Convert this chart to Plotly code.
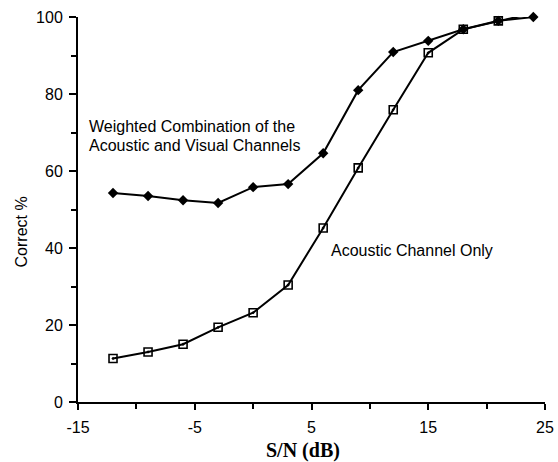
import plotly.graph_objects as go

snr_db = [-12, -9, -6, -3, 0, 3, 6, 9, 12, 15, 18, 21, 24]
weighted_av = [54.3, 53.5, 52.4, 51.7, 55.8, 56.6, 64.6, 81.0, 90.9, 93.8, 96.8, 99.0, 100.0]
acoustic_only = [11.3, 13.0, 15.0, 19.4, 23.2, 30.4, 45.2, 60.8, 75.9, 90.7, 96.8, 99.0, 101.0]

x_ticks = [-15, -5, 5, 15, 25]
y_ticks = [0, 20, 40, 60, 80, 100]

SANS = "Liberation Sans, Arial, sans-serif"
SERIF = "Liberation Serif, Times New Roman, serif"

fig = go.Figure()
fig.add_trace(go.Scatter(
    x=snr_db, y=acoustic_only, mode="lines+markers", cliponaxis=False,
    line=dict(color="black", width=2),
    marker=dict(symbol="square-open-dot", size=8, color="black", line=dict(width=1.6, color="black")),
    showlegend=False,
))
fig.add_trace(go.Scatter(
    x=snr_db, y=weighted_av, mode="lines+markers", cliponaxis=False,
    line=dict(color="black", width=2),
    marker=dict(symbol="diamond", size=8, color="black"),
    showlegend=False,
))

fig.add_annotation(
    x=-14.23, y=71.5, xref="x", yref="y", xanchor="left", yanchor="middle",
    text="Weighted Combination of the", showarrow=False,
    font=dict(family=SANS, size=16, color="black"),
)
fig.add_annotation(
    x=-14.23, y=66.6, xref="x", yref="y", xanchor="left", yanchor="middle",
    text="Acoustic and Visual Channels", showarrow=False,
    font=dict(family=SANS, size=16, color="black"),
)
fig.add_annotation(
    x=6.47, y=39.4, xref="x", yref="y", xanchor="left", yanchor="middle",
    text="Acoustic Channel Only", showarrow=False,
    font=dict(family=SANS, size=16, color="black"),
)
# axis titles
fig.add_annotation(
    x=0.4818, y=-0.1247, xref="paper", yref="paper", text="<b>S/N (dB)</b>", showarrow=False,
    xanchor="center", yanchor="middle",
    font=dict(family=SERIF, size=20, color="black"),
)
fig.add_annotation(
    x=-0.121, y=0.4416, xref="paper", yref="paper", text="Correct %", showarrow=False,
    xanchor="center", yanchor="middle",
    textangle=-90, font=dict(family=SANS, size=16, color="black"),
)

fig.update_xaxes(
    range=[-15, 25], tickvals=x_ticks, ticktext=[str(v) for v in x_ticks],
    showgrid=False, zeroline=False, showline=True, linecolor="black", linewidth=2,
    ticks="outside", ticklen=6, tickwidth=1.5, tickcolor="black", automargin=False,
    ticklabeloverflow="allow", ticklabelstandoff=4,
    minor=dict(tickvals=[-10, 0, 10, 20], ticks="outside", ticklen=5, tickwidth=1.5, tickcolor="black"),
    tickfont=dict(family=SANS, size=16, color="black"),
)
fig.update_yaxes(
    range=[0, 100], tickvals=y_ticks, ticktext=[str(v) for v in y_ticks],
    showgrid=False, zeroline=False, showline=True, linecolor="black", linewidth=2,
    ticks="outside", ticklen=7, tickwidth=1.5, tickcolor="black", automargin=False,
    ticklabeloverflow="allow", ticklabelstandoff=3,
    minor=dict(tickvals=[10, 30, 50, 70, 90], ticks="outside", ticklen=5, tickwidth=1.5, tickcolor="black"),
    tickfont=dict(family=SANS, size=16, color="black"),
)

fig.update_layout(
    width=558, height=462,
    margin=dict(l=78, r=13, t=17, b=60),
    plot_bgcolor="white", paper_bgcolor="white",
)

fig.write_html(
    "out.html",
    config={"displayModeBar": False},
    post_script="document.body.style.margin='0';document.body.style.overflow='hidden';",
)
